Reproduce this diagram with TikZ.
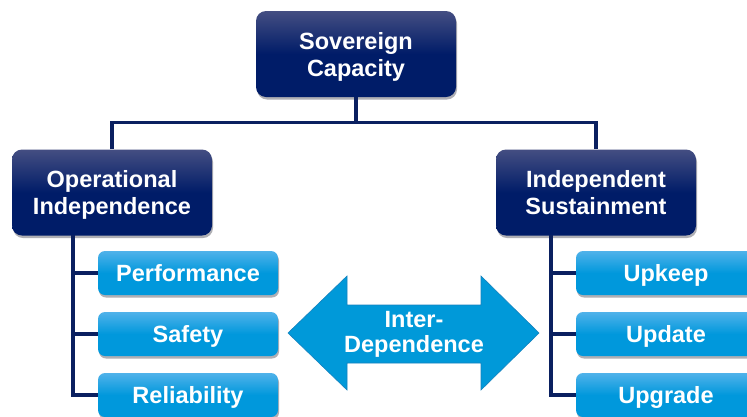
\documentclass[tikz,border=0pt]{standalone}
\usepackage{fontspec}
\setmainfont{Liberation Sans}
\usetikzlibrary{shadows}
\definecolor{navytop}{RGB}{68,78,130}
\definecolor{navybot}{RGB}{0,28,104}
\definecolor{bluetop}{RGB}{80,178,234}
\definecolor{bluebot}{RGB}{0,152,220}
\definecolor{arrowblue}{RGB}{0,153,217}
\definecolor{arrowedge}{RGB}{20,130,190}
\definecolor{linenavy}{RGB}{10,32,96}
\definecolor{shadowgray}{RGB}{175,175,180}
\begin{document}
\begin{tikzpicture}[x=1pt,y=-1pt,
  txt/.style={text=white, align=center, font=\fontsize{23.5}{27}\selectfont\bfseries,
    text height=17pt, text depth=0pt},
  bigbox/.style={txt, text height=44pt, rectangle, rounded corners=10pt, minimum width=200pt, minimum height=86pt,
    inner sep=0pt, top color=navytop, bottom color=navybot, middle color=navybot,
    drop shadow={shadow xshift=1pt, shadow yshift=-2.5pt, fill=shadowgray, opacity=1}},
  subbox/.style={txt, rectangle, rounded corners=7pt, minimum width=180pt, minimum height=44pt,
    inner sep=0pt, top color=bluetop, bottom color=bluebot, middle color=bluebot,
    drop shadow={shadow xshift=1pt, shadow yshift=-2.5pt, fill=shadowgray, opacity=1}},
  conn/.style={draw=linenavy, line width=3.2pt},
]
\clip (0,0) rectangle (747,416);
\fill[white] (0,0) rectangle (747,416);

\coordinate (lt) at (73,235);
\coordinate (rt) at (551,235);

\node[bigbox] (sc) at (356,54) {Sovereign\\Capacity};
\node[bigbox] (oi) at (112,192.5) {Operational\\Independence};
\node[bigbox] (is) at (596,192.5) {Independent\\Sustainment};

\draw[conn] (sc.south) -- ++(0,25) -| (oi.north);
\draw[conn] (sc.south) -- ++(0,25) -| (is.north);

\node[subbox] (p1) at (188,273) {Performance};
\node[subbox] (p2) at (188,334) {Safety};
\node[subbox] (p3) at (188,395) {Reliability};
\node[subbox] (u1) at (666,273) {Upkeep};
\node[subbox] (u2) at (666,334) {Update};
\node[subbox] (u3) at (666,395) {Upgrade};

\draw[conn] (lt) |- (p1.west);
\draw[conn] (lt) |- (p2.west);
\draw[conn] (lt) |- (p3.west);
\draw[conn] (rt) |- (u1.west);
\draw[conn] (rt) |- (u2.west);
\draw[conn] (rt) |- (u3.west);

% double arrow
\filldraw[fill=arrowblue, draw=arrowedge, line width=0.6pt]
  (288,333) -- (347,276) -- (347,305) -- (481,305) -- (481,276) -- (539,333)
  -- (481,390) -- (481,363) -- (347,363) -- (347,390) -- cycle;
\node[txt, font=\fontsize{23.5}{25}\selectfont\bfseries, text height=42pt] (id) at (414,331) {Inter-\\Dependence};
\end{tikzpicture}
\end{document}
